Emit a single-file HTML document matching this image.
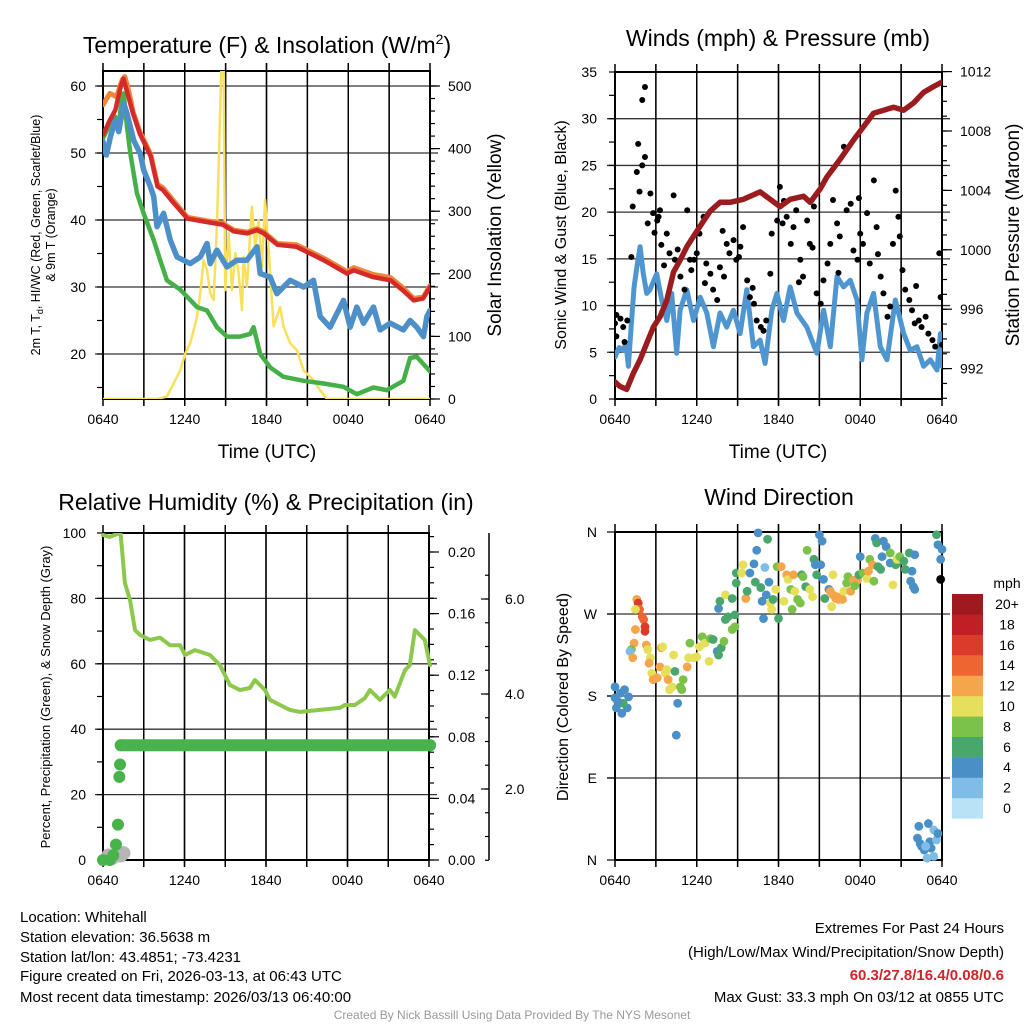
<!DOCTYPE html>
<html><head><meta charset="utf-8"><style>
body{margin:0;background:#fff;}
svg{display:block;font-family:"Liberation Sans",Arial,sans-serif;}
</style></head><body>
<svg id="root" width="1024" height="1024" viewBox="0 0 1024 1024">
<defs>
<clipPath id="c1"><rect x="103" y="71" width="327" height="328"/></clipPath>
<clipPath id="c2"><rect x="615" y="72" width="327" height="327"/></clipPath>
<clipPath id="c3"><rect x="95" y="533" width="345" height="335"/></clipPath>
</defs>
<text x="267" y="53" font-size="23" text-anchor="middle">Temperature (F) &amp; Insolation (W/m<tspan font-size="14" dy="-9">2</tspan><tspan dy="9">)</tspan></text>
<text x="778" y="46" font-size="23" text-anchor="middle">Winds (mph) &amp; Pressure (mb)</text>
<text x="266" y="510" font-size="23" text-anchor="middle">Relative Humidity (%) &amp; Precipitation (in)</text>
<text x="779" y="505" font-size="23" text-anchor="middle">Wind Direction</text>
<text x="267" y="458" font-size="19" text-anchor="middle">Time (UTC)</text>
<text x="778" y="458" font-size="19" text-anchor="middle">Time (UTC)</text>
<text transform="translate(40,235) rotate(-90)" font-size="12.5" text-anchor="middle">2m T, T<tspan font-size="9" dy="3">d</tspan><tspan dy="-3">, HI/WC (Red, Green, Scarlet/Blue)</tspan></text>
<text transform="translate(55,235) rotate(-90)" font-size="12.5" text-anchor="middle">&amp; 9m T (Orange)</text>
<text transform="translate(501,235) rotate(-90)" font-size="19" text-anchor="middle">Solar Insolation (Yellow)</text>
<text transform="translate(566,235) rotate(-90)" font-size="16" text-anchor="middle">Sonic Wind &amp; Gust (Blue, Black)</text>
<text transform="translate(1019,235) rotate(-90)" font-size="19" text-anchor="middle">Station Pressure (Maroon)</text>
<text transform="translate(50,697) rotate(-90)" font-size="13" text-anchor="middle">Percent, Precipitation (Green), &amp; Snow Depth (Gray)</text>
<text transform="translate(568,697) rotate(-90)" font-size="16" text-anchor="middle">Direction (Colored By Speed)</text>
<g font-size="15">
<text x="20" y="922">Location: Whitehall</text>
<text x="20" y="942">Station elevation: 36.5638 m</text>
<text x="20" y="962">Station lat/lon: 43.4851; -73.4231</text>
<text x="20" y="981">Figure created on Fri, 2026-03-13, at 06:43 UTC</text>
<text x="20" y="1002">Most recent data timestamp: 2026/03/13 06:40:00</text>
</g>
<g font-size="15" text-anchor="end">
<text x="1004" y="933">Extremes For Past 24 Hours</text>
<text x="1004" y="957">(High/Low/Max Wind/Precipitation/Snow Depth)</text>
<text x="1004" y="980" fill="#d2232a" font-weight="bold">60.3/27.8/16.4/0.08/0.6</text>
<text x="1004" y="1002">Max Gust: 33.3 mph On 03/12 at 0855 UTC</text>
</g>
<text x="512" y="1019" font-size="12" fill="#999" text-anchor="middle">Created By Nick Bassill Using Data Provided By The NYS Mesonet</text>
</svg>
<script>
const timeTickLabels = ["0640","1240","1840","0040","0640"];
const redHours = [0,0.5,0.9,1.3,1.5,1.8,2.2,2.7,3.5,4,4.4,5.2,6.2,7.6,8.8,9.6,10.6,11.3,11.8,12.8,14.2,15.2,16.2,17.9,18.4,19.8,21.1,22,22.8,23.5,24];
const redTemp = [52.7,54.9,56.4,59.9,61.1,58.9,55.9,52.9,49.5,45,44.5,42.5,40.2,39.7,39.3,38.3,38,38.5,38,36.3,36,35,34,32,32.5,31.5,31,29.5,28,28.3,30];
const orangeHours = [0,0.5,1,1.4,1.6,1.9,2.2,2.7,3.5,4,4.4,5.2,6.2,7.6,8.8,9.6,10.6,11.3,11.8,12.8,14.2,15.2,16.2,17.9,18.4,19.8,21.1,22,22.8,23.5,24];
const orangeTemp = [57.2,58.9,58.4,60.9,61.4,59.2,56.2,53.2,49.8,45.3,44.8,42.8,40.4,39.9,39.5,38.5,38.2,38.7,38.2,36.5,36.3,35.3,34.3,32.3,32.9,31.9,31.4,29.9,28.3,28.5,30.2];
const blueHours = [0,0.24,0.54,0.9,1.15,1.52,1.76,2.25,2.74,2.98,3.47,3.72,3.96,4.45,4.94,5.43,6.4,7.14,7.63,7.87,8.36,9.1,9.83,10.56,11.3,11.54,12.27,12.76,13.25,13.74,14.72,15.45,15.94,16.67,17.65,18.14,18.63,19.12,19.85,20.34,21.08,22.05,22.54,23.03,23.52,23.77,24];
const blueTemp = [51.7,49.7,52.4,54.9,53.2,57.4,55.9,51.9,49.9,47.5,45,43.5,39,41,37,34.5,33.5,34.5,36.5,33.5,35.5,33,34,34,36,32,31.5,29,30,31,30,31,25.6,24,28,24,27,24.6,27,23.6,24.6,23.6,25,24,22.6,25.6,26.5];
const greenHours = [0,0.54,0.9,1.15,1.39,1.52,1.76,2,2.49,2.98,3.72,4.2,4.69,5.67,6.9,7.63,8.36,9.1,10.07,10.8,11.05,11.54,12.27,13.25,14.72,16.19,17.65,18.63,19.85,20.83,22.05,22.54,23.03,24];
const greenTemp = [52.2,54.4,55.4,53.9,58.4,58.9,53.9,50,44,41,37,34,31,29.6,27,26.5,24,22.6,22.6,23,24,20,18,16.6,16,15.6,15.1,14,15,14.6,16,19.4,19.6,17.4];
const solarHours = [0,3.96,4.69,5.18,5.67,6.04,6.4,6.9,7.14,7.38,7.63,7.87,8.12,8.36,8.6,8.73,8.85,8.97,9.22,9.46,9.71,9.95,10.2,10.32,10.56,10.93,11.17,11.42,11.66,11.9,12.15,12.52,13,13.25,13.74,14.23,14.72,15.45,15.94,16.43,24];
const solarWm2 = [0,0,4,25,46,73,89,131,169,222,206,169,158,275,462,560,560,174,265,174,233,201,142,227,179,307,243,286,211,318,243,116,147,116,89,78,46,30,14,0,0];

const pressHours = [0,0.37,0.86,1.35,1.84,2.33,2.82,3.31,3.8,4.29,4.78,5.27,5.76,6.25,6.98,7.71,8.45,9.43,10.65,11.39,12.12,12.86,13.84,14.33,15.06,15.55,16.53,17.51,18.25,18.98,19.72,20.45,21.19,21.92,22.65,23.39,24];
const pressMb = [991.1,990.8,990.6,991.7,992.6,993.7,994.8,995.5,996.6,998.5,999.3,1000.2,1000.9,1001.6,1002.6,1003.2,1003.2,1003.4,1003.9,1003.4,1002.9,1003.4,1003.6,1003.2,1004.1,1004.9,1006.1,1007.4,1008.3,1009.2,1009.4,1009.6,1009.4,1009.9,1010.6,1011,1011.3];
const windHours = [0,0.3,0.61,0.8,0.98,1.22,1.4,1.59,1.84,2.08,2.33,2.57,3.06,3.43,3.8,4.16,4.53,4.78,5.27,5.76,6.25,6.74,7.22,7.71,8.2,8.69,9.18,9.67,10.16,10.65,11.02,11.51,11.88,12.37,12.86,13.35,14.08,14.82,15.31,15.8,16.29,16.78,17.27,17.76,18.12,18.49,18.98,19.47,19.96,20.57,21.19,21.67,22.16,22.65,23.14,23.63,23.88,24];
const windMph = [4.5,5.5,5.2,6,3.5,8.4,12,14,16.3,13.4,11.3,11.7,13.4,10.6,8.4,11.3,4.9,9.5,11.7,8.4,10.9,9.2,5.6,9.2,7.7,9.5,7,11.7,5.6,6.3,3.8,9.5,11.3,8.4,12,9.2,7.7,4.9,9.5,5.6,13.1,12,12.7,10.6,4.2,9.2,11.3,5.6,4.2,10.6,7,5.2,5.6,3.5,4.2,3.1,7,3.5];
const gustHours = [0,0.1,0.4,0.1,0.6,0.9,0.7,1.2,1.3,1.6,1.7,2,2,2.2,2.2,1.8,2.4,2.6,2.8,3.1,3.3,3.4,3.6,3.8,4,4.3,4.4,4.8,5.1,5.3,5.5,5.8,6,6.2,6.5,6.7,7,7.2,7.5,7.7,8,8.2,8.4,8.7,8.9,9.2,9.4,9.7,9.9,10.2,10.4,10.7,10.9,11.1,11.4,11.5,11.9,12.1,12.4,12.6,12.9,13.1,13.3,13.6,13.8,14.1,14.3,14.6,14.8,15.1,15.3,15.6,15.8,16,16.3,16.5,16.8,17,17.3,17.5,17.8,18,18.2,18.5,18.7,19,19.2,19.5,19.7,20,20.2,20.4,20.6,20.8,21.1,21.3,21.6,21.8,22,22.3,22.5,22.8,23,23.3,23.5,23.8,23.9,24,3.2,4.6,6.6,7.9,9.1,12.3,13.5,14.5,16.4,17.9,19.3,20.9,22.1,2.9,5.6,10.1];
const gustMph = [8.1,9,8.6,6.7,7.7,8.4,6.1,15.2,20.6,24.3,27.3,25,32,33.4,25.9,22.2,18.8,22,19.9,19.1,20.2,16.5,14.3,17.7,15.6,21.8,14.9,13.1,11.7,20.2,14.9,14.9,15.6,17.7,19.5,14.5,13.4,11.7,10.6,14.1,13.1,16.6,15.6,17,14.9,16.3,18.4,12.7,10.9,10.2,8.4,7.7,7.3,8.4,13.4,17.7,19.1,22.7,21.2,19.5,16.6,18.4,20.2,14.9,13.1,19.1,16.6,20.6,11.3,10.2,12.7,14.5,16.6,21.3,18.8,17.4,27,20.2,20.9,15.9,14.9,17.7,16.6,19.9,14.5,23.4,18.4,13.1,11.3,8.8,9.9,16.6,22.3,19.5,13.8,11.7,10.6,9.5,8.1,8.4,7.7,8.8,7,6.3,5.6,15.6,10.9,5.8,19.5,16,12.4,18,15.2,18.8,12.5,16.2,13.5,21.5,15.5,17.4,12.1,17.8,13.8,11.9];

const rhHours = [0,0.5,0.9,1.28,1.39,1.61,1.98,2.35,2.72,3.45,4.18,4.92,5.65,6.02,6.75,7.85,8.58,9.32,10.05,10.78,11.15,11.89,12.25,12.99,13.72,14.46,15.92,17.39,17.75,18.49,19.22,19.59,20.32,21.06,21.42,22.16,22.52,22.89,23.62,24];
const rhPct = [99.4,98.8,99.5,100,95.4,84.7,79.5,70.3,68.8,67.3,68,65.7,65.7,62.7,64.2,62.7,59.6,53.5,52,52.6,55,52,49,47.4,45.9,45.3,45.9,46.5,47.4,47.4,49.5,52,49,52,50,58,59.6,70.3,67.3,59.6];
const precipHours = [0,0.5,0.75,0.95,1.1,1.2,1.3,24];
const precipIn = [0,0,0.003,0.01,0.023,0.054,0.0745,0.0745];
const precipHours2 = [1.25];
const precipIn2 = [0.062];
const snowHours = [0.4,0.7,1.0,1.3,1.5];
const snowIn = [0.6,0.55,0.6,0.6,0.65];

const dirHours = [0,0,0.1,0.4,0.5,0.7,1,0.9,0.6,0.2,1.6,1.7,1.8,2,2.1,2.2,2.2,1.5,1.5,1.4,1.2,1.1,1.3,2.3,2.4,2.6,2.5,2.7,2.8,3.1,3.3,3.4,3.5,3.7,3.8,3.9,4,4.2,4.3,4.4,4.6,4.5,4.8,4.9,5,5.3,5.4,5.5,5.8,6,6.2,6.4,6.6,6.9,7,7.2,7.5,7.6,7.8,8,8.1,8.3,8.6,8.8,8.8,7.6,7.7,8.1,8.6,8.9,8.9,9.3,9.4,9.6,9.7,9.9,10.2,10.3,10.4,10.5,10.7,10.8,10.9,11,11.1,11.2,11.3,11.4,11.5,11.6,11.8,11.9,12,12.2,12.4,12.6,12.7,12.9,13,13.1,13.2,13.4,13.6,13.7,13.8,14,14.1,14.3,14.5,14.6,14.7,14.8,15,15.2,15.1,15.3,15.4,15.7,15.8,16,16.2,16.3,16.4,16.7,15.9,16,16.8,17,17.1,17.3,17.5,17.8,17.6,17.9,18,18.2,18.5,18.6,18.7,18.9,19,19.1,19.2,19.3,19.5,19.6,19.7,19.9,20.2,20.2,20.4,20.6,20.7,20.9,21.2,21.3,21.6,21.7,21.8,21.9,22,22,22.3,22.2,22.4,22.5,22.7,22.9,23,23.1,23.2,23.4,23.4,23.6,23.7,22.8,23.6,23.7,23.9,24,23.9];
const dirDeg = [190,178,167,183,161,187,179,167,172,174,286,282,275,267,264,256,251,275,253,238,231,229,222,236,231,222,216,205,198,200,212,233,234,205,209,198,187,190,225,207,172,137,190,187,198,212,222,238,222,223,234,245,238,218,243,242,229,225,233,240,264,267,253,256,269,276,284,291,287,304,315,315,324,287,295,315,325,305,340,359,299,284,265,321,291,352,305,282,275,286,297,322,265,322,284,313,308,297,275,313,295,286,282,313,311,300,340,297,289,330,324,313,357,350,324,308,287,297,295,291,287,289,286,286,278,313,295,304,311,295,307,307,301,313,333,315,309,317,330,324,306,353,348,322,319,333,350,344,337,326,302,324,330,333,328,319,337,306,317,300,297,335,37,24,18,15,11,2,40,20,13,4,33,22,29,15,357,346,330,341,308];
const dirSpeed = [4,4,4,4,4,4,4,4,6,4,12,16,14,14,14,16,16,10,12,12,8,2,12,12,10,10,12,10,12,12,12,12,10,10,10,12,10,10,10,6,4,4,8,8,8,12,10,8,10,10,10,8,10,10,8,6,4,6,6,8,6,6,8,8,6,4,6,10,6,6,6,10,10,12,6,4,4,6,4,4,6,4,4,2,4,6,4,10,10,6,10,8,6,12,10,12,10,8,8,12,10,8,8,6,8,6,8,10,10,6,4,6,4,4,4,4,6,4,12,12,12,12,12,12,10,10,10,8,8,12,12,12,8,6,4,8,10,12,8,12,8,4,6,6,6,4,4,4,8,4,10,6,10,8,6,6,6,4,4,4,4,4,4,4,4,4,4,2,4,4,4,2,2,2,4,2,6,4,4,4];
const speedBins = ["0","2","4","6","8","10","12","14","16","18","20+"];
const speedColors = ["#b8e3f7","#7fbde6","#4a90c6","#49a66d","#7ac24a","#e6df5a","#f5a54a","#ef6530","#dc3a2b","#c11f26","#9e1a1f"];

const NS = "http://www.w3.org/2000/svg";
const root = document.getElementById("root");
function add(parent, tag, attrs) {
  const el = document.createElementNS(NS, tag);
  for (const k in attrs) el.setAttribute(k, attrs[k]);
  parent.appendChild(el);
  return el;
}
function pathFrom(xs, ys, fx, fy) {
  let d = "";
  for (let i = 0; i < xs.length; i++) d += (i ? "L" : "M") + fx(xs[i]).toFixed(1) + "," + fy(ys[i]).toFixed(1);
  return d;
}
const x1 = h => 103 + h / 24 * 327;
const x2 = h => 615 + h / 24 * 327;
const tY = v => 86 + (60 - v) * 6.7;
const sY = w => 399 - w * 0.626;
const wY = m => 399 - m * 9.343;
const pY = p => 131 + (1008 - p) * 14.85;
const rY = r => 860 - r * 3.27;
const prY = p => 860 - p * 1540;
const snY = s => 884 - s * 47.5;
const dY = d => 860 - d * (328 / 360);

function frame(x0, y0, x1p, y1p, hLines, name) {
  const g = add(root, "g", {});
  
  
  for (let k = 1; k < 8; k++) {
    const x = x0 + (x1p - x0) * k / 8;
    const l = add(g, "line", {x1: x, x2: x, y1: y0 - 8, y2: y1p + 6, stroke: k % 2 ? "#555" : "#222", "stroke-width": 1.3});
    
    
  }
  for (const y of hLines) {
    const l = add(g, "line", {x1: x0 - 8, x2: x1p + 8, y1: y, y2: y, stroke: "#333", "stroke-width": 1.3});
    
    
  }
  const r = add(g, "rect", {x: x0, y: y0, width: x1p - x0, height: y1p - y0, fill: "none", stroke: "#000", "stroke-width": 2});
  
  
  for (let k = 0; k <= 8; k++) {
    const x = x0 + (x1p - x0) * k / 8;
    const t = add(g, "line", {x1: x, x2: x, y1: y0 - 8, y2: y1p + 7, stroke: "#000", "stroke-width": 1.5});
    
    
  }
  for (let k = 0; k < timeTickLabels.length; k++) {
    const tx = add(g, "text", {x: x0 + (x1p - x0) * k / 4, y: y1p + 25, "font-size": 14, "text-anchor": "middle"});
    tx.textContent = timeTickLabels[k];
    
    
  }
  return g;
}
function yTicks(g, x, vals, fy, dir, len, labels, lx, anchor) {
  for (let i = 0; i < vals.length; i++) {
    const y = fy(vals[i]);
    const t = add(g, "line", {x1: x, x2: x + dir * len, y1: y, y2: y, stroke: "#000", "stroke-width": 1.2});
    
    
  }
  if (labels) for (let i = 0; i < labels.length; i++) {
    const tx = add(g, "text", {x: lx, y: fy(labels[i][0]) + 5, "font-size": 14, "text-anchor": anchor});
    tx.textContent = labels[i][1];
    
    
  }
}
function seq(a, b, s) { const r = []; for (let v = a; v <= b + 1e-9; v += s) r.push(+v.toFixed(3)); return r; }

// PANEL 1
const g1 = frame(103, 71, 430, 399, [60,50,40,30,20].map(tY), "temperature");
yTicks(g1, 103, seq(15, 60, 5), tY, -1, 6, [[60,"60"],[50,"50"],[40,"40"],[30,"30"],[20,"20"]], 86, "end");
yTicks(g1, 430, seq(0, 500, 20), sY, 1, 5, [[0,"0"],[100,"100"],[200,"200"],[300,"300"],[400,"400"],[500,"500"]], 448, "start");
yTicks(g1, 430, seq(0, 500, 100), sY, 1, 10, null);
const s1 = add(root, "g", {"clip-path": "url(#c1)", fill: "none", "stroke-linejoin": "round", "stroke-linecap": "round"});


const solarLine = add(s1, "path", {d: pathFrom(solarHours, solarWm2, x1, sY), stroke: "#f9e05a", "stroke-width": 2.5});


const greenLine = add(s1, "path", {d: pathFrom(greenHours, greenTemp, x1, tY), stroke: "#46b048", "stroke-width": 4.5});


const blueLine = add(s1, "path", {d: pathFrom(blueHours, blueTemp, x1, tY), stroke: "#4d8fc8", "stroke-width": 5.5});


const orangeLine = add(s1, "path", {d: pathFrom(orangeHours, orangeTemp, x1, tY), stroke: "#f0843a", "stroke-width": 5});


const redLine = add(s1, "path", {d: pathFrom(redHours, redTemp, x1, tY), stroke: "#d42a2a", "stroke-width": 4.5});



// PANEL 2
const g2 = frame(615, 72, 942, 399, seq(5, 30, 5).map(wY), "wind");
yTicks(g2, 615, seq(0, 35, 2.5), wY, -1, 6, seq(0, 35, 5).map(v => [v, String(v)]), 597, "end");
yTicks(g2, 942, seq(990, 1012, 1), pY, 1, 5, [[992,"992"],[996,"996"],[1000,"1000"],[1004,"1004"],[1008,"1008"],[1012,"1012"]], 960, "start");
yTicks(g2, 942, seq(992, 1012, 4), pY, 1, 10, null);
const s2 = add(root, "g", {"clip-path": "url(#c2)", fill: "none", "stroke-linejoin": "round", "stroke-linecap": "round"});


const windLine = add(s2, "path", {d: pathFrom(windHours, windMph, x2, wY), stroke: "#4f96d0", "stroke-width": 5});


for (let i = 0; i < gustHours.length; i++) {
  const c = add(s2, "circle", {cx: x2(gustHours[i]), cy: wY(gustMph[i]), r: 3, fill: "#000"});
  
  
}
const pressLine = add(s2, "path", {d: pathFrom(pressHours, pressMb, x2, pY), stroke: "#9b1c1f", "stroke-width": 5.5});



// PANEL 3
const g3 = frame(103, 533, 429, 860, [80,60,40,20].map(rY), "humidity");
yTicks(g3, 103, seq(0, 100, 10), rY, -1, 6, seq(0, 100, 20).map(v => [v, String(v)]), 86, "end");
yTicks(g3, 429, seq(0, 0.21, 0.01), prY, 1, 5, seq(0, 0.2, 0.04).map(v => [v, v.toFixed(2)]), 448, "start");
yTicks(g3, 429, seq(0, 0.2, 0.04), prY, 1, 10, null);
const snowAxis = add(g3, "line", {x1: 489, x2: 489, y1: 533, y2: 860, stroke: "#000", "stroke-width": 1.5});


yTicks(g3, 489, seq(0.5, 6.5, 0.5), snY, -1, 4, [[2,"2.0"],[4,"4.0"],[6,"6.0"]], 505, "start");
yTicks(g3, 489, [2,4,6], snY, -1, 8, null);
const s3 = add(root, "g", {"clip-path": "url(#c3)", fill: "none", "stroke-linejoin": "round", "stroke-linecap": "round"});


for (let i = 0; i < snowHours.length; i++) {
  const c = add(s3, "circle", {cx: x1(snowHours[i]), cy: snY(snowIn[i]), r: 7, fill: "#b5b5b5"});
  
  
}
const rhLine = add(s3, "path", {d: pathFrom(rhHours, rhPct, x1, rY), stroke: "#8cc84b", "stroke-width": 4});


const pIdx = precipHours.length - 2;
const precipBand = add(s3, "line", {x1: x1(precipHours[pIdx]), x2: x1(precipHours[pIdx + 1]), y1: prY(precipIn[pIdx]), y2: prY(precipIn[pIdx + 1]), stroke: "#48b34a", "stroke-width": 12, "stroke-linecap": "round"});


for (let i = 0; i < precipHours.length; i++) {
  const c = add(s3, "circle", {cx: x1(precipHours[i]), cy: prY(precipIn[i]), r: 6, fill: "#48b34a"});
  
  
}
for (let i = 0; i < precipHours2.length; i++) {
  const c = add(s3, "circle", {cx: x1(precipHours2[i]), cy: prY(precipIn2[i]), r: 6, fill: "#48b34a"});
  
  
}

// PANEL 4
const g4 = frame(615, 532, 942, 860, [270,180,90].map(dY), "direction");
const dirLabels = [[0,"N"],[90,"E"],[180,"S"],[270,"W"],[360,"N"]];
yTicks(g4, 615, [0,90,180,270,360], dY, -1, 8, dirLabels, 597, "end");
const s4b = add(root, "g", {});


for (let i = 0; i < dirHours.length; i++) {
  const bin = Math.min(10, Math.floor(dirSpeed[i] / 2));
  const c = add(s4b, "circle", {cx: x2(dirHours[i]), cy: dY(dirDeg[i]), r: 4.4, fill: speedColors[bin]});
  
  
}
const lg = add(root, "g", {});


const lt = add(lg, "text", {x: 1007, y: 588, "font-size": 14, "text-anchor": "middle"});
lt.textContent = "mph";


for (let i = 0; i < speedBins.length; i++) {
  const row = speedBins.length - 1 - i;
  const y = 594 + row * 20.4;
  const r = add(lg, "rect", {x: 952, y: y, width: 31, height: 20.6, fill: speedColors[i]});
  
  
  const t = add(lg, "text", {x: 1007, y: y + 15, "font-size": 14, "text-anchor": "middle"});
  t.textContent = speedBins[i];
  
  
}
</script>
</body></html>
